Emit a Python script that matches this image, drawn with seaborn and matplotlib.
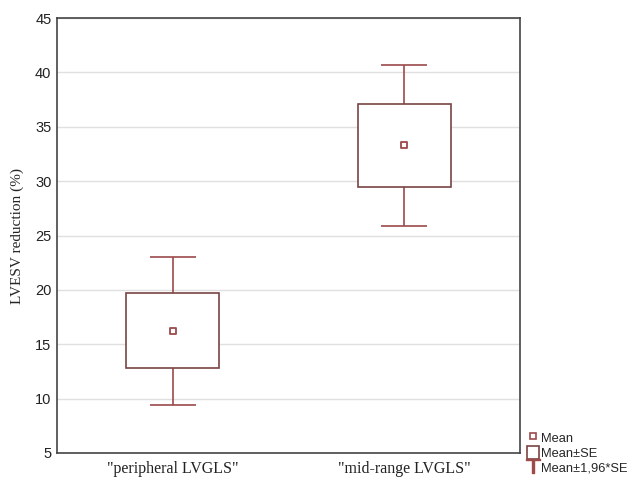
import matplotlib
matplotlib.use("Agg")
import matplotlib.pyplot as plt
import seaborn as sns
import pandas as pd
from matplotlib.lines import Line2D
from matplotlib.patches import Rectangle

groups = ['"peripheral LVGLS"', '"mid-range LVGLS"']
means = [16.2, 33.3]
se_lo = [12.8, 29.5]
se_hi = [19.7, 37.1]
ci_lo = [9.4, 25.9]
ci_hi = [23.0, 40.7]

box_col = "#7a4444"
wh_col = "#9c4a4a"

sns.set_theme(style="white")
plt.rcParams['font.family'] = ['Liberation Sans', 'DejaVu Sans']

fig = plt.figure(figsize=(6.32, 4.78), dpi=100)
ax = fig.add_axes([57/632, 1 - 453/478, (520-57)/632, (453-18)/478])

xs = list(range(len(groups)))
# whiskers (Mean +- 1.96*SE)
ax.vlines(xs, ci_lo, se_lo, color=wh_col, lw=1.2, zorder=2)
ax.vlines(xs, se_hi, ci_hi, color=wh_col, lw=1.2, zorder=2)
ax.hlines(ci_lo, [x - 0.1 for x in xs], [x + 0.1 for x in xs], color=wh_col, lw=1.2, zorder=2)
ax.hlines(ci_hi, [x - 0.1 for x in xs], [x + 0.1 for x in xs], color=wh_col, lw=1.2, zorder=2)
# boxes (Mean +- SE)
ax.bar(xs, [h - l for h, l in zip(se_hi, se_lo)], bottom=se_lo, width=0.4,
       facecolor="white", edgecolor=box_col, lw=1.2, zorder=3)
# mean markers
df = pd.DataFrame({"x": xs, "mean": means})
sns.scatterplot(data=df, x="x", y="mean", marker="s", s=22, facecolor="white",
                edgecolor=wh_col, linewidth=1.3, ax=ax, zorder=4, legend=False)

ax.set_xlim(-0.5, 1.5)
ax.set_ylim(5, 45)
ax.set_yticks(range(5, 46, 5))
ax.set_xticks(xs)
ax.set_xticklabels(groups, family=['Liberation Serif'], fontsize=11.5)
ax.set_xlabel("")
ax.set_ylabel("LVESV reduction (%)", family=['Liberation Serif'], fontsize=11, labelpad=8)
ax.tick_params(axis="y", length=0, labelsize=10.5, pad=4, colors="#222222")
ax.tick_params(axis="x", direction="in", length=3, pad=6, colors="#222222")
ax.grid(axis="y", color="#e0e0e0", lw=1)
ax.set_axisbelow(True)
for s in ax.spines.values():
    s.set_color("#444444")
    s.set_linewidth(1.2)

handles = [
    Line2D([], [], marker="s", ls="none", markersize=4.5, markerfacecolor="white",
           markeredgecolor=wh_col, markeredgewidth=1.2),
    Rectangle((0, 0), 1, 1, facecolor="white", edgecolor=box_col, lw=1.2),
    Line2D([], [], marker="$\u22a4$", ls="none", markersize=10, color=wh_col),
]
fig.legend(handles, ["Mean", "Mean\u00b1SE", "Mean\u00b11,96*SE"], loc="lower left",
           bbox_to_anchor=(518/632, -0.012), frameon=False, fontsize=9.3,
           handlelength=0.9, handleheight=1.15, handletextpad=0.2,
           labelspacing=0.1, borderpad=0.2)

fig.savefig("out.png", dpi=100)
